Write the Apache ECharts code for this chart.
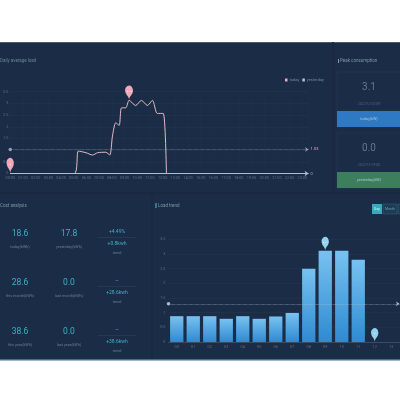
<!DOCTYPE html>
<html>
<head>
<meta charset="utf-8">
<style>
  html, body { margin: 0; padding: 0; background: #fff; }
  #main { width: 400px; height: 400px; filter: blur(0.6px); }
</style>
<script src="https://cdn.jsdelivr.net/npm/echarts@6/dist/echarts.min.js"></script>
</head>
<body>
<div id="main"></div>
<script>
// hourly load, today stops just after noon
const todayHours = [0, 5.04, 5.36, 5.96, 6.48, 6.88, 7.53, 7.84, 8.05, 8.31, 8.58, 8.76, 9.1, 9.36, 9.88, 10.33, 10.8, 11.2, 11.58, 12.05, 12.3];
const todayLoad = [0, 0, 0.96, 0.89, 0.79, 0.89, 0.91, 0.79, 1.6, 2.17, 2.06, 2.81, 2.81, 3.13, 2.91, 3.13, 2.91, 3.13, 2.57, 2.57, 0];
const yesterdayHours = [0, 23];
const yesterdayLoad = [0, 0];
const todayMean = 1.03;

const trendCategories = ['00', '01', '02', '03', '04', '05', '06', '07', '08', '09', '10', '11', '12', '13'];
const trendValues = [0.88, 0.88, 0.88, 0.79, 0.88, 0.79, 0.87, 0.99, 2.5, 3.11, 3.11, 2.8, 0, 0];
const trendMean = 1.3;

const peakValues = ['3.1', '0.0'];
const peakDates = ['2022-12-20 09', '2022-12-19 00'];
const peakButtons = ['today(kW)', 'yesterday(kW)'];

const costCurrent = ['18.6', '28.6', '38.6'];
const costPrevious = ['17.8', '0.0', '0.0'];
const costCurrentNames = ['today(kWh)', 'this month(kWh)', 'this year(kWh)'];
const costPreviousNames = ['yesterday(kWh)', 'last month(kWh)', 'last year(kWh)'];
const costRates = ['+4.49%', '--', '--'];
const costDiffs = ['+0.8kwh', '+28.6kwh', '+38.6kwh'];

const myChart = echarts.init(document.getElementById('main'));

const FONT = 'Roboto, sans-serif';
const CYAN = '#3fb0c6';
const MUTED = '#64808f';
const PANEL = '#1b2c46';
const SEAM = '#19293f';
const PINK = '#f0a9b8';

function text(x, y, str, size, fill, align) {
  return {
    type: 'text', x: x, y: y, z: 5,
    style: { text: str, fontSize: size, fontFamily: FONT, fill: fill, align: align || 'center', verticalAlign: 'middle' }
  };
}
function rect(x, y, w, h, fill, stroke) {
  return {
    type: 'rect', z: -5,
    shape: { x: x, y: y, width: w, height: h },
    style: { fill: fill, stroke: stroke || null, lineWidth: stroke ? 0.5 : 0 }
  };
}

const elements = [
  rect(0, 42, 400, 317, PANEL),
  rect(0, 42, 400, 1, '#4a5a70'),
  rect(0, 192, 400, 2, SEAM),
  rect(332, 42, 2, 150, SEAM),
  rect(151, 194, 2, 165, SEAM),
  rect(0, 359, 400, 1.5, '#3d7299'),
  text(0, 61, 'Daily average load', 4.5, '#65878f', 'left'),
  rect(338, 59, 0.8, 4, '#9db7c7'),
  text(340, 61, 'Peak consumption', 4.5, '#7a98a5', 'left'),
  text(0, 206, 'Cost analysis', 4.5, '#7a98a5', 'left'),
  rect(155.5, 203, 1, 5, '#5fb4dc'),
  text(158, 206, 'Load trend', 4.5, '#7a98a5', 'left'),
  // day / month switch
  rect(372, 204, 10, 10, '#3aa9bb'),
  text(377, 209, 'Day', 3.5, '#d5f0f5'),
  rect(383, 204, 14, 10, '#1f3b52', '#2f6a78'),
  text(390, 209, 'Month', 3.5, '#5fa3ad'),
  rect(398, 204, 3, 10, '#1f3b52', '#2f6a78')
];

// peak cards on the right
const cardTops = [72, 133];
const buttonColors = ['#2f78c4', '#3d7f5c'];
peakValues.forEach(function (v, i) {
  const top = cardTops[i];
  elements.push(rect(337, top, 64, 55, PANEL, '#2a3b54'));
  elements.push(text(369, top + 15, v, 10, '#64798c'));
  elements.push(text(369, top + 32, peakDates[i], 3.5, '#52677a'));
  elements.push(rect(337, top + 39, 64, 16, buttonColors[i]));
  elements.push(text(369, top + 47, peakButtons[i], 3.8, '#a9c6d6'));
});

// cost rows on the left
const rowValueY = [234, 283, 332];
costCurrent.forEach(function (v, i) {
  const y = rowValueY[i];
  elements.push(text(20, y, v, 8.5, CYAN));
  elements.push(text(69, y, costPrevious[i], 8.5, CYAN));
  elements.push(text(20, y + 13, costCurrentNames[i], 3.8, MUTED));
  elements.push(text(69, y + 13, costPreviousNames[i], 3.8, MUTED));
  elements.push(text(117, y - 2, costRates[i], 5, CYAN));
  elements.push(rect(98, y + 3, 38, 0.5, '#33475c'));
  elements.push(text(117, y + 10, costDiffs[i], 5, CYAN));
  elements.push(text(117, y + 19, 'trend', 3.8, MUTED));
  if (i < 2) elements.push(rect(0, y + 26, 150, 0.6, '#1f3048'));
});

const axisLabelStyle = { color: '#587287', fontSize: 3.8, fontFamily: FONT, margin: 3 };
const faintLine = { lineStyle: { color: 'rgba(160,190,210,0.07)', width: 0.5 } };

const option = {
  animation: false,
  backgroundColor: '#fff',
  textStyle: { fontFamily: FONT },
  graphic: { elements: elements },
  legend: {
    data: ['today', 'yesterday'],
    left: 280, top: 73,
    icon: 'rect', itemWidth: 2.5, itemHeight: 3, itemGap: 3,
    textStyle: { color: '#6f8c9a', fontSize: 4, padding: [0, 0, 0, -3] }
  },
  grid: [
    { left: 9, right: 91.4, top: 91.7, height: 81.8 },
    { left: 168.5, right: 0.5, top: 239.3, height: 102.7 }
  ],
  xAxis: [
    {
      gridIndex: 0, type: 'value', min: 0, max: 23.5, interval: 1,
      axisLine: { show: false }, axisTick: { show: false },
      splitLine: { show: true, lineStyle: { color: 'rgba(160,190,210,0.04)', width: 0.5 } },
      axisLabel: Object.assign({}, axisLabelStyle, {
        showMaxLabel: false,
        formatter: function (v) { return String(v).padStart(2, '0') + ':00'; }
      })
    },
    {
      gridIndex: 1, type: 'category', data: trendCategories,
      axisLine: { lineStyle: { color: '#40566c', width: 0.8 } }, axisTick: { show: false },
      axisLabel: axisLabelStyle
    }
  ],
  yAxis: [
    {
      gridIndex: 0, type: 'value', min: 0, max: 3.5, interval: 0.5,
      axisLine: { show: false }, axisTick: { show: false }, splitLine: faintLine,
      axisLabel: Object.assign({}, axisLabelStyle, {
        margin: 2,
        formatter: function (v) { return v === 1 ? '' : String(v); }
      })
    },
    {
      gridIndex: 1, type: 'value', min: 0, max: 3.5, interval: 0.5,
      axisLine: { show: false }, axisTick: { show: false }, splitLine: faintLine,
      axisLabel: axisLabelStyle
    }
  ],
  series: [
    {
      name: 'yesterday', type: 'line', xAxisIndex: 0, yAxisIndex: 0,
      data: yesterdayHours.map(function (h, i) { return [h, yesterdayLoad[i]]; }),
      symbol: 'none', color: '#a9c6e2',
      lineStyle: { width: 1.2, color: '#a9c0d4' },
      markLine: {
        silent: true, symbol: ['none', 'arrow'], symbolSize: 4,
        lineStyle: { color: '#a9c0d4', width: 1.2, type: 'solid' },
        label: { color: '#9fb5c6', fontSize: 4, distance: 2, formatter: '0' },
        data: [{ yAxis: 0 }]
      }
    },
    {
      name: 'today', type: 'line', xAxisIndex: 0, yAxisIndex: 0,
      data: todayHours.map(function (h, i) { return [h, todayLoad[i]]; }),
      smooth: 0.25, symbol: 'none', color: PINK,
      lineStyle: { width: 1, color: '#e6bcc6' },
      markPoint: {
        symbol: 'pin', symbolSize: [13, 17],
        itemStyle: { color: PINK },
        label: { fontSize: 2.5, color: '#fff' },
        data: [{ type: 'max' }, { type: 'min', symbolSize: [12, 18] }]
      },
      markLine: {
        silent: true, symbol: ['circle', 'arrow'], symbolSize: 3.5,
        lineStyle: { color: '#8ea3b5', width: 0.6, type: 'dotted' },
        itemStyle: { color: PINK },
        label: { color: PINK, fontSize: 4, distance: 2, formatter: '{c}' },
        data: [{ yAxis: todayMean }]
      }
    },
    {
      name: 'trend', type: 'bar', xAxisIndex: 1, yAxisIndex: 1,
      data: trendValues, barWidth: 13.3,
      itemStyle: {
        color: new echarts.graphic.LinearGradient(0, 0, 0, 1, [
          { offset: 0, color: '#78c2f0' },
          { offset: 1, color: '#2f8ad2' }
        ])
      },
      markPoint: {
        symbol: 'pin', symbolSize: [12, 16],
        itemStyle: { color: '#93d3f0' },
        label: { fontSize: 2.5, color: '#fff' },
        data: [{ type: 'max' }, { coord: ['12', 0], value: 0 }]
      },
      markLine: {
        silent: true, symbol: ['circle', 'arrow'], symbolSize: 3.5,
        lineStyle: { color: '#a8bccb', width: 0.6, type: 'dotted' },
        itemStyle: { color: '#dfeaf2' },
        label: { show: false },
        data: [{ yAxis: trendMean }]
      }
    }
  ]
};

myChart.setOption(option);
</script>
</body>
</html>
